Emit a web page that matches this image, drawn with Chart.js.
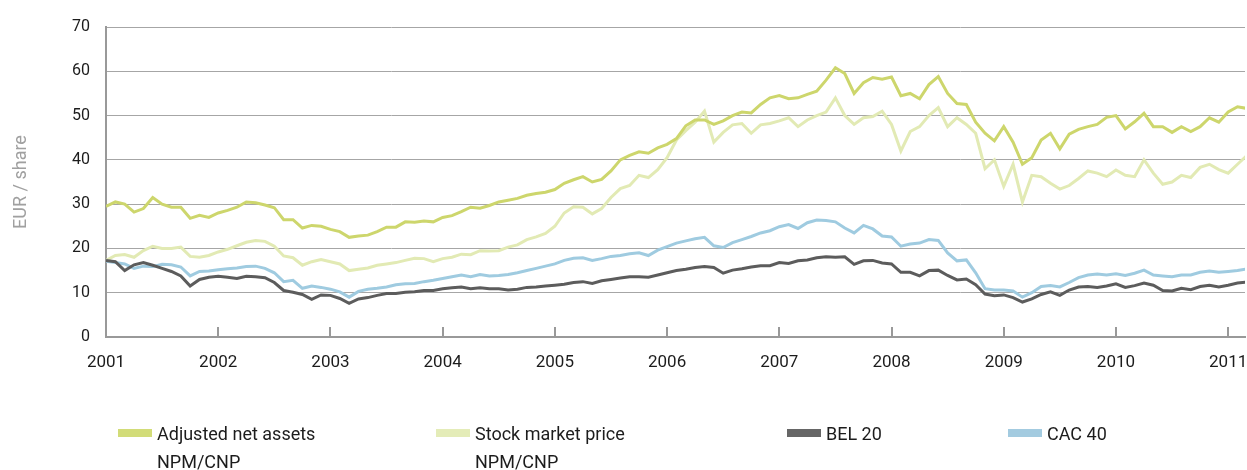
<!DOCTYPE html>
<html>
<head>
<meta charset="utf-8">
<script src="https://cdn.jsdelivr.net/npm/chart.js@4.4.1/dist/chart.umd.min.js"></script>
<style>
  html, body { margin: 0; padding: 0; background: #ffffff; }
  #wrap { position: relative; width: 1247px; height: 470px; overflow: hidden; font-family: Roboto, "Liberation Sans", sans-serif; }
  #chart { position: absolute; left: 0; top: 0; }
  .lg-box { position: absolute; top: 429px; width: 34px; height: 8px; }
  .lg-text { position: absolute; top: 420px; font-size: 18px; line-height: 28px; color: #1c1c1c; white-space: nowrap; }
</style>
</head>
<body>
<div id="wrap">
  <canvas id="chart" width="1247" height="470"></canvas>
  <div class="lg-box" style="left:118px;background:#d2dc78"></div>
  <div class="lg-text" style="left:157px">Adjusted net assets<br>NPM/CNP</div>
  <div class="lg-box" style="left:436px;background:#e4ecb8"></div>
  <div class="lg-text" style="left:475px">Stock market price<br>NPM/CNP</div>
  <div class="lg-box" style="left:787px;background:#666666"></div>
  <div class="lg-text" style="left:826px">BEL 20</div>
  <div class="lg-box" style="left:1008px;background:#a3cbe0"></div>
  <div class="lg-text" style="left:1047px">CAC 40</div>
</div>
<script>
// Monthly observations, first point January 2001
const startYear = 2001;
const yearTicks = [2001, 2002, 2003, 2004, 2005, 2006, 2007, 2008, 2009, 2010, 2011];
const seriesNames = ["Adjusted net assets NPM/CNP", "Stock market price NPM/CNP", "BEL 20", "CAC 40"];

const adjustedNetAssets = [
  29.5, 30.5, 30.0, 28.2, 29.0, 31.5, 30.0, 29.3, 29.3, 26.8, 27.5, 27.0,
  28.0, 28.6, 29.3, 30.5, 30.3, 29.8, 29.2, 26.5, 26.5, 24.6, 25.2, 25.0,
  24.3, 23.8, 22.5, 22.8, 23.0, 23.8, 24.8, 24.8, 26.0, 25.9, 26.2, 26.0,
  27.0, 27.4, 28.3, 29.3, 29.1, 29.7, 30.5, 30.9, 31.3, 32.0, 32.4, 32.7,
  33.3, 34.7, 35.5, 36.2, 35.0, 35.6, 37.5, 40.0, 41.0, 41.8, 41.5, 42.7,
  43.5, 44.8, 47.7, 49.0, 49.0, 48.0, 48.8, 50.0, 50.8, 50.6, 52.5, 54.0,
  54.5, 53.8, 54.0, 54.8, 55.5, 58.0, 60.8, 59.5, 55.0, 57.4, 58.6, 58.2,
  58.7, 54.5, 55.0, 53.8, 57.0, 58.8, 55.0, 52.7, 52.5, 48.5, 46.0, 44.3,
  47.5, 44.0, 39.0, 40.5, 44.5, 46.0, 42.5, 45.8, 46.9, 47.5, 48.0, 49.6,
  50.0, 47.0, 48.6, 50.5, 47.5, 47.5, 46.2, 47.5, 46.4, 47.5, 49.5, 48.5,
  50.8, 52.0, 51.6
];

const stockMarketPrice = [
  17.3, 18.4, 18.6, 18.0, 19.5, 20.5, 20.0, 20.0, 20.3, 18.2, 18.0, 18.4,
  19.2, 19.8, 20.6, 21.4, 21.8, 21.6, 20.5, 18.3, 17.9, 16.2, 17.0, 17.5,
  17.0, 16.5, 15.0, 15.3, 15.6, 16.2, 16.5, 16.8, 17.3, 17.8, 17.7, 17.0,
  17.7, 18.0, 18.7, 18.6, 19.5, 19.4, 19.5, 20.3, 20.8, 22.0, 22.6, 23.4,
  25.0, 28.0, 29.4, 29.3, 27.8, 29.0, 31.5, 33.5, 34.2, 36.5, 36.0, 37.8,
  40.5, 44.5, 46.6, 48.5, 51.0, 44.0, 46.2, 47.9, 48.2, 46.0, 47.9, 48.2,
  48.8, 49.5, 47.5, 49.0, 50.0, 50.8, 54.0, 50.0, 48.0, 49.5, 49.8, 51.0,
  48.0, 42.0, 46.4, 47.5, 50.0, 51.8, 47.5, 49.5, 48.0, 46.0, 38.0, 40.0,
  34.0, 39.0, 30.5, 36.5, 36.2, 34.7, 33.4, 34.2, 35.8, 37.5, 37.0, 36.2,
  37.7, 36.5, 36.2, 40.0, 37.0, 34.5, 35.0, 36.5, 36.0, 38.3, 39.0, 37.8,
  37.0, 39.0, 41.0
];

const bel20 = [
  17.3, 17.0, 15.0, 16.3, 16.8, 16.2, 15.5, 14.8, 13.8, 11.5, 13.0, 13.5,
  13.7, 13.5, 13.2, 13.7, 13.6, 13.4, 12.3, 10.5, 10.1, 9.6, 8.5, 9.5,
  9.4, 8.7, 7.6, 8.6, 8.9, 9.4, 9.8, 9.8, 10.1, 10.2, 10.5, 10.5,
  10.9, 11.1, 11.3, 10.9, 11.1, 10.9, 10.9, 10.6, 10.8, 11.2, 11.3, 11.5,
  11.7, 11.9, 12.3, 12.5, 12.1, 12.7, 13.0, 13.3, 13.6, 13.6, 13.5, 14.0,
  14.5, 15.0, 15.3, 15.7, 15.9, 15.7, 14.4, 15.1, 15.4, 15.8, 16.1, 16.1,
  16.8, 16.6, 17.2, 17.4, 17.9, 18.1, 18.0, 18.1, 16.4, 17.2, 17.3, 16.7,
  16.5, 14.6, 14.6, 13.8, 15.0, 15.1, 13.9, 12.9, 13.1, 11.8, 9.7, 9.3,
  9.5, 8.9, 7.9, 8.6, 9.6, 10.2, 9.4, 10.6, 11.3, 11.4, 11.2, 11.5,
  12.0, 11.2, 11.6, 12.2, 11.7, 10.5, 10.4, 11.0, 10.7, 11.4, 11.7, 11.3,
  11.7, 12.2, 12.4
];

const cac40 = [
  17.1, 16.8, 16.5, 15.5, 16.0, 15.9, 16.4, 16.3, 15.8, 13.8, 14.8, 14.9,
  15.2, 15.4, 15.6, 15.9, 16.0, 15.5, 14.5, 12.5, 12.8, 11.0, 11.5, 11.2,
  10.8, 10.2, 9.0, 10.3, 10.8, 11.0, 11.3, 11.8, 12.0, 12.1, 12.5, 12.8,
  13.2, 13.6, 14.0, 13.6, 14.1, 13.8, 13.9, 14.1, 14.5, 15.0, 15.5, 16.0,
  16.5, 17.3, 17.8, 17.9, 17.3, 17.7, 18.2, 18.4, 18.8, 19.0, 18.4, 19.6,
  20.4, 21.2, 21.7, 22.2, 22.5, 20.6, 20.2, 21.3, 22.0, 22.7, 23.5, 24.0,
  24.9, 25.4, 24.5, 25.8, 26.4, 26.3, 26.0, 24.6, 23.5, 25.2, 24.4, 22.8,
  22.6, 20.5, 21.0, 21.2, 22.0, 21.8, 19.0, 17.2, 17.4, 14.5, 10.9, 10.6,
  10.6, 10.4, 9.0, 10.0, 11.4, 11.6, 11.3, 12.3, 13.4, 14.0, 14.2, 14.0,
  14.3, 13.9, 14.4, 15.1, 14.0, 13.8, 13.6, 14.0, 14.0, 14.6, 14.9, 14.6,
  14.8, 15.0, 15.4
];

const monthPositions = adjustedNetAssets.map((_, i) => startYear + i / 12);
const toPoints = arr => arr.map((v, i) => ({ x: monthPositions[i], y: v }));

const FONT = 'Roboto, "Liberation Sans", sans-serif';

// Short tick marks pointing up into the plot at each year
const innerTicks = {
  id: 'innerTicks',
  afterDraw(chart) {
    const sx = chart.scales.x, ctx = chart.ctx, bottom = chart.chartArea.bottom;
    ctx.save();
    ctx.strokeStyle = '#999999';
    ctx.lineWidth = 2;
    yearTicks.forEach(v => {
      const px = Math.round(sx.getPixelForValue(v));
      ctx.beginPath();
      ctx.moveTo(px, bottom);
      ctx.lineTo(px, bottom - 10);
      ctx.stroke();
    });
    ctx.restore();
  }
};

new Chart(document.getElementById('chart'), {
  type: 'line',
  data: {
    datasets: [
      { label: seriesNames[2], data: toPoints(bel20), borderColor: '#5c5c5c', borderWidth: 3, pointRadius: 0, tension: 0 },
      { label: seriesNames[3], data: toPoints(cac40), borderColor: '#9fcbe0', borderWidth: 3, pointRadius: 0, tension: 0 },
      { label: seriesNames[0], data: toPoints(adjustedNetAssets), borderColor: '#cdd66c', borderWidth: 3, pointRadius: 0, tension: 0 },
      { label: seriesNames[1], data: toPoints(stockMarketPrice), borderColor: '#e2eab4', borderWidth: 3, pointRadius: 0, tension: 0 }
    ]
  },
  plugins: [innerTicks],
  options: {
    responsive: false,
    animation: false,
    devicePixelRatio: 1,
    layout: { padding: { top: 27, right: 2, left: 0, bottom: 0 } },
    plugins: { legend: { display: false }, tooltip: { enabled: false } },
    scales: {
      x: {
        type: 'linear',
        min: yearTicks[0],
        max: 2011.15,
        afterFit: s => { s.height = 133; s.paddingLeft = 0; s.paddingRight = 0; },
        afterBuildTicks: s => { s.ticks = yearTicks.map(v => ({ value: v })); },
        ticks: {
          stepSize: 1,
          includeBounds: false,
          padding: 16,
          color: '#1c1c1c',
          font: { family: FONT, size: 17 },
          maxRotation: 0,
          callback: v => String(v)
        },
        grid: { drawOnChartArea: false, drawTicks: false },
        border: { display: true, color: '#999999', width: 2 }
      },
      y: {
        min: 0,
        max: 70,
        afterFit: s => { s.width = 106; },
        ticks: {
          stepSize: 10,
          padding: 16,
          color: '#1c1c1c',
          font: { family: FONT, size: 16 }
        },
        grid: { drawTicks: false, color: '#a6a6a6', lineWidth: 1 },
        border: { display: true, color: '#999999', width: 2 },
        title: {
          display: true,
          text: 'EUR / share',
          color: '#a0a0a0',
          font: { family: FONT, size: 18 },
          padding: { top: 11, bottom: 0 }
        }
      }
    }
  }
});
</script>
</body>
</html>
